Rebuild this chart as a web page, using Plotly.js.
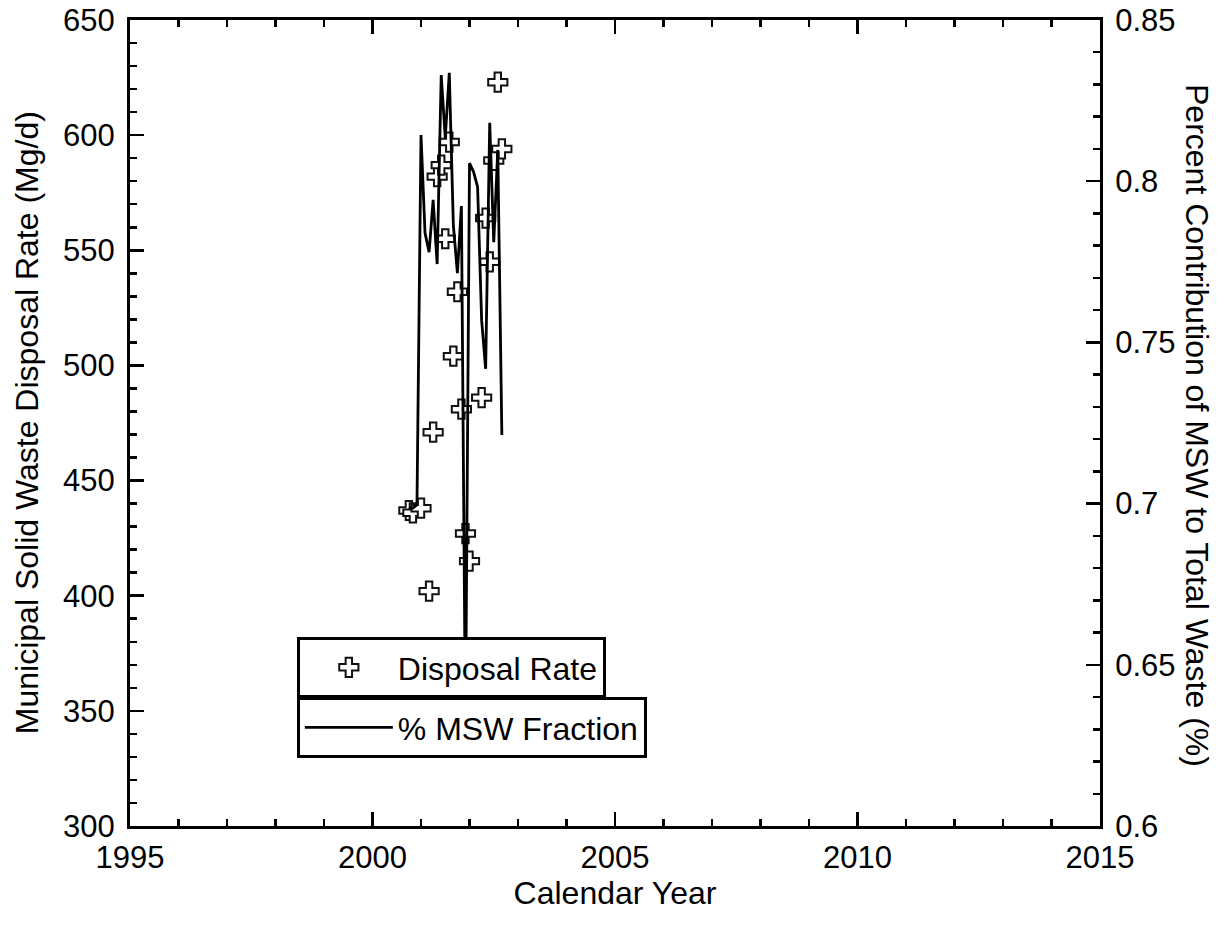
<!DOCTYPE html>
<html>
<head>
<meta charset="utf-8">
<script src="https://cdn.plot.ly/plotly-3.0.1.min.js"></script>
<style>html,body{margin:0;padding:0;background:#fff;}#chart{width:1224px;height:926px;}</style>
</head>
<body>
<div id="chart"></div>
<script>
// Disposal rate (Mg/d), monthly, left axis
const rateYears = [2000.75, 2000.833, 2001.0, 2001.167, 2001.25, 2001.333, 2001.417, 2001.5, 2001.583, 2001.667, 2001.75, 2001.833, 2001.917, 2002.0, 2002.25, 2002.333, 2002.417, 2002.5, 2002.583, 2002.667];
const disposalRate = [437, 436, 438, 402, 471, 582, 587, 555, 597, 504, 532, 481, 427, 415, 486, 564, 545, 589, 623, 594];

// MSW fraction, monthly, right axis
const fracYears = [2000.75, 2000.833, 2000.917, 2001.0, 2001.083, 2001.167, 2001.25, 2001.333, 2001.417, 2001.5, 2001.583, 2001.667, 2001.75, 2001.833, 2001.917, 2002.0, 2002.083, 2002.167, 2002.25, 2002.333, 2002.417, 2002.5, 2002.583, 2002.667];
const mswFraction = [0.6986, 0.6986, 0.6996, 0.8143, 0.7839, 0.7780, 0.7942, 0.7743, 0.8329, 0.8134, 0.8336, 0.7864, 0.7715, 0.7923, 0.63, 0.8056, 0.8029, 0.7982, 0.7569, 0.7418, 0.8181, 0.7811, 0.8097, 0.7213];

const FONT = 'Liberation Sans, Arial, sans-serif';
const FS = 31;
const TS = 32;

const traces = [
  {
    x: fracYears, y: mswFraction, yaxis: 'y2', type: 'scatter', mode: 'lines',
    name: '% MSW Fraction', legend: 'legend2', showlegend: true,
    line: {color: '#000', width: 2.8}
  },
  {
    x: rateYears, y: disposalRate, type: 'scatter', mode: 'markers',
    name: 'Disposal Rate', legend: 'legend', showlegend: true,
    marker: {symbol: 'cross', size: 16, color: '#fff', line: {color: '#111', width: 2}}
  }
];

const axisCommon = {
  showline: true, linecolor: '#000', linewidth: 3,
  ticks: 'inside', ticklen: 14, tickwidth: 2.5, tickcolor: '#000',
  showgrid: false, zeroline: false,
  tickfont: {family: FONT, size: FS, color: '#000'}
};

const legendCommon = {
  xanchor: 'left', yanchor: 'top',
  bgcolor: '#fff', bordercolor: '#000', borderwidth: 3,
  font: {family: FONT, size: TS, color: '#000'}, itemwidth: 88, visible: true
};

const layout = {
  width: 1224, height: 926,
  margin: {l: 130, r: 124, t: 20, b: 100},
  paper_bgcolor: '#fff', plot_bgcolor: '#fff',
  font: {family: FONT, color: '#000'},
  showlegend: true,
  xaxis: Object.assign({}, axisCommon, {
    range: [1995, 2015], dtick: 5, tick0: 1995, mirror: 'ticks',
    minor: {dtick: 1, ticks: 'inside', ticklen: 7, tickwidth: 2.5, tickcolor: '#000'},
    ticklabelstandoff: 2,
    title: {text: 'Calendar Year', font: {family: FONT, size: TS, color: '#000'}, standoff: 6}
  }),
  yaxis: Object.assign({}, axisCommon, {
    range: [300, 650], dtick: 50, tick0: 300,
    minor: {dtick: 10, ticks: 'inside', ticklen: 7, tickwidth: 2.5, tickcolor: '#000'},
    ticklabelstandoff: 6
  }),
  yaxis2: Object.assign({}, axisCommon, {
    overlaying: 'y', side: 'right',
    range: [0.6, 0.85], dtick: 0.05, tick0: 0.6,
    minor: {dtick: 0.01, ticks: 'inside', ticklen: 7, tickwidth: 2.5, tickcolor: '#000'},
    ticklabelstandoff: 6
  }),
  legend: Object.assign({}, legendCommon, {x: 0.172, y: 0.2345}),
  legend2: Object.assign({}, legendCommon, {x: 0.172, y: 0.160}),
  annotations: [
    {
      text: 'Municipal Solid Waste Disposal Rate (Mg/d)',
      xref: 'paper', yref: 'paper', x: -0.106, y: 0.5,
      xanchor: 'center', yanchor: 'middle', textangle: -90, showarrow: false,
      font: {family: FONT, size: TS, color: '#000'}
    },
    {
      text: 'Percent Contribution of MSW to Total Waste (%)',
      xref: 'paper', yref: 'paper', x: 1.1, y: 0.4975,
      xanchor: 'center', yanchor: 'middle', textangle: 90, showarrow: false,
      font: {family: FONT, size: TS, color: '#000'}
    }
  ]
};

Plotly.newPlot('chart', traces, layout, {displayModeBar: false, staticPlot: true});
</script>
</body>
</html>
